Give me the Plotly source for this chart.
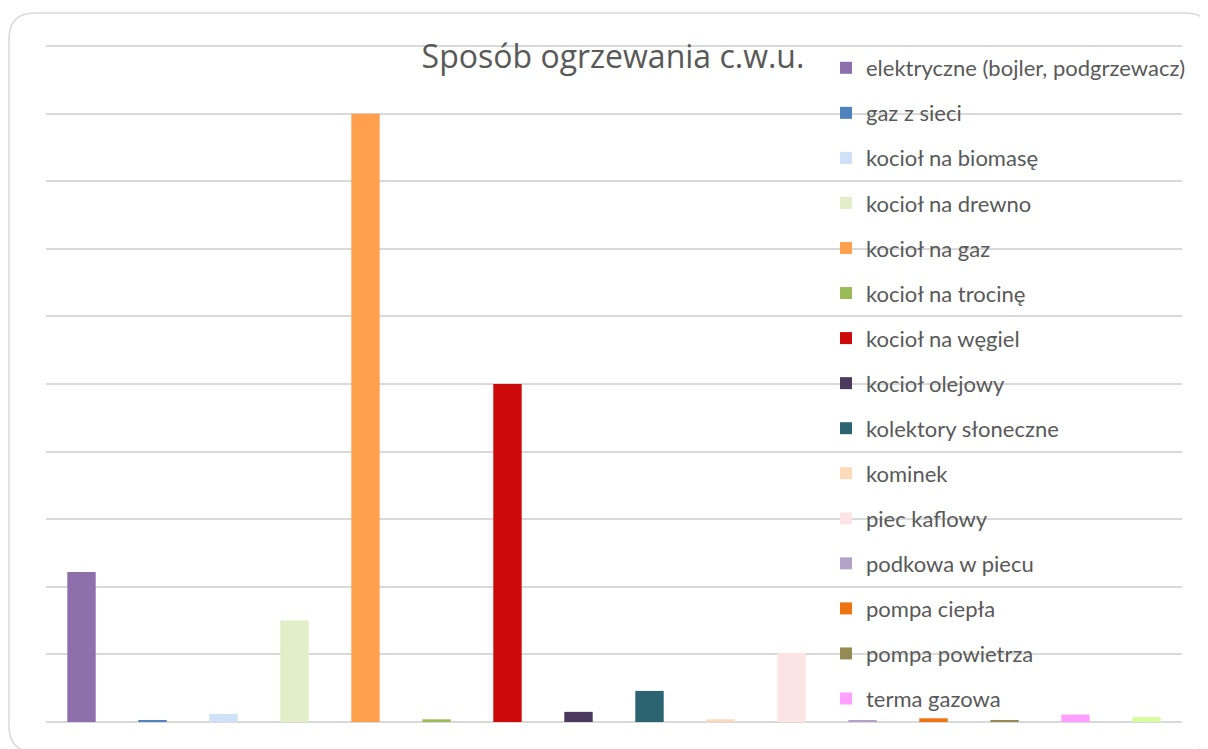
import plotly.graph_objects as go

categories = [
    "elektryczne (bojler, podgrzewacz)",
    "gaz z sieci",
    "kocioł na biomasę",
    "kocioł na drewno",
    "kocioł na gaz",
    "kocioł na trocinę",
    "kocioł na węgiel",
    "kocioł olejowy",
    "kolektory słoneczne",
    "kominek",
    "piec kaflowy",
    "podkowa w piecu",
    "pompa ciepła",
    "pompa powietrza",
    "terma gazowa",
    "inne",
]
values = [22.2, 0.2, 1.2, 15.0, 90.0, 0.4, 50.0, 1.5, 4.6, 0.4, 10.2, 0.15, 0.55, 0.15, 1.1, 0.75]
colors = [
    "#8c6fab", "#4f81bd", "#cfe0f7", "#e2eec8", "#ffa04f", "#9bbb59",
    "#cc0a0a", "#4b3a5e", "#2c6472", "#fcd9b8", "#fce4e4", "#b3a2c7",
    "#ee7412", "#948a54", "#ffa0ff", "#d8fca0",
]
show_in_legend = [True] * 15 + [False]

W, H = 1208, 749
OFF = 8  # page body margin
YMAX = 100.3
# plot area in figure pixels
L = 46 - OFF
R = W - (1182 - OFF)
B = H - (722 - OFF)
plot_h = 676 * YMAX / 100
T = round((722 - OFF) - plot_h)

fig = go.Figure()
for i, (c, v, col, sl) in enumerate(zip(categories, values, colors, show_in_legend)):
    fig.add_trace(go.Bar(
        x=[c], y=[v], name=c, marker=dict(color=col, line=dict(width=0)),
        width=0.4, showlegend=sl, legendgroup=f"g{i}",
    ))

# rounded chart border (decoration, screen pixel -> paper conversion)
PW = W - L - R
PH = H - T - B

def px(x):
    return (x - OFF - L) / PW

def py(y):
    return (H - B - (y - OFF)) / PH

x0, y0, x1, y1, r = 9, 13, 1211, 752, 26
path = (
    f"M {px(x0)},{py(y0 + r)} Q {px(x0)},{py(y0)} {px(x0 + r)},{py(y0)} "
    f"L {px(x1 - r)},{py(y0)} Q {px(x1)},{py(y0)} {px(x1)},{py(y0 + r)} "
    f"L {px(x1)},{py(y1 - r)} Q {px(x1)},{py(y1)} {px(x1 - r)},{py(y1)} "
    f"L {px(x0 + r)},{py(y1)} Q {px(x0)},{py(y1)} {px(x0)},{py(y1 - r)} Z"
)

fig.update_layout(
    width=W, height=H,
    margin=dict(l=L, r=R, t=T, b=B, autoexpand=False),
    paper_bgcolor="white", plot_bgcolor="white",
    barmode="overlay",
    font=dict(family="Lato, Open Sans, sans-serif", color="#595959"),
    title=dict(
        text="Sposób ogrzewania c.w.u.",
        font=dict(family="Open Sans, sans-serif", size=32, color="#595959"),
        xref="container", yref="container",
        x=(613 - OFF) / W, xanchor="center", y=1 - 49 / H, yanchor="middle",
    ),
    xaxis=dict(showticklabels=False, showgrid=False, zeroline=False, showline=False, ticks=""),
    yaxis=dict(range=[0, YMAX], dtick=10, showticklabels=False, showgrid=True,
               gridcolor="#d9d9d9", gridwidth=1.5, zeroline=True, zerolinecolor="#d9d9d9",
               zerolinewidth=1.5, showline=False, ticks=""),
    legend=dict(
        xref="container", yref="container",
        x=818 / W, xanchor="left", y=1 - 39 / H, yanchor="top",
        bgcolor="rgba(0,0,0,0)", borderwidth=0,
        font=dict(family="Lato, sans-serif", size=22, color="#595959"),
        traceorder="grouped", tracegroupgap=13.45, itemwidth=30,
        maxheight=740,
    ),
    shapes=[dict(type="path", xref="paper", yref="paper", path=path,
                 line=dict(color="#d9d9d9", width=1.5), fillcolor="rgba(0,0,0,0)",
                 layer="below")],
    showlegend=True,
)

fig.write_html("out.html")
